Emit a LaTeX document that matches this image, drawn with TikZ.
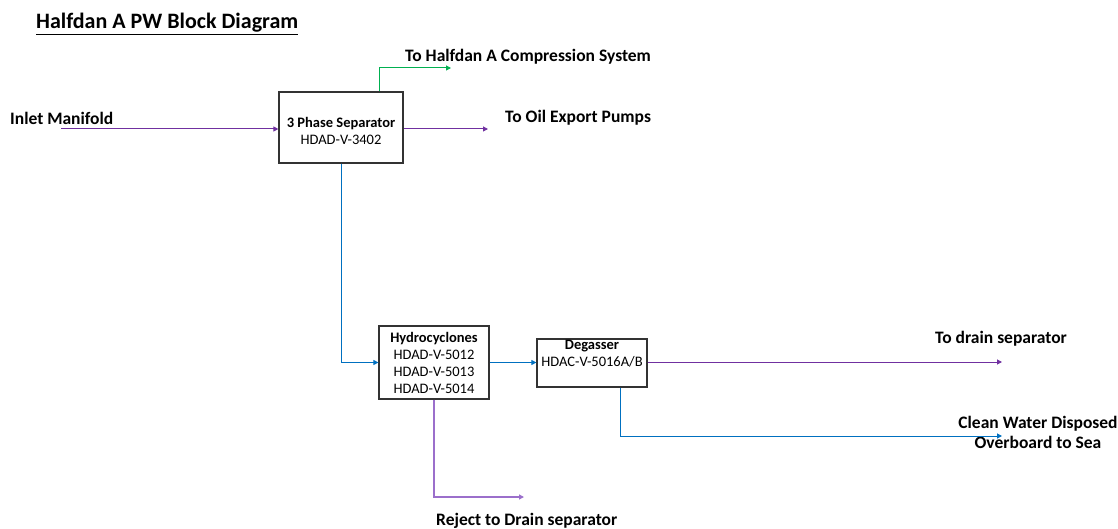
\documentclass[tikz,border=0pt]{standalone}
\usepackage{fontspec}
\setmainfont{Carlito}
\usetikzlibrary{arrows.meta,positioning}
\definecolor{oilpurple}{HTML}{7030A0}
\definecolor{rejectpurple}{HTML}{9B6FCB}
\definecolor{waterblue}{HTML}{0070C0}
\definecolor{gasgreen}{HTML}{00B050}
\begin{document}
\begin{tikzpicture}[x=1pt,y=-1pt,
>={Triangle[length=5pt,width=5pt]},
every node/.style={inner sep=0pt},
blockstyle/.style={draw=black!80,line width=1.2pt,fill=white},
boxtext/.style={align=center,font=\fontsize{14.5}{17}\selectfont},
labelstyle/.style={anchor=west,font=\bfseries\fontsize{17.5}{20}\selectfont},
oilline/.style={->,oilpurple,line width=1pt},
waterline/.style={->,waterblue,line width=1pt},
gasline/.style={->,gasgreen,line width=1pt}]

\useasboundingbox (0,0) rectangle (1118,529);

% title
\node[labelstyle,font=\bfseries\fontsize{22}{24}\selectfont] (title) at (36,24) {\underline{Halfdan A PW Block Diagram}};

% vessels
\node[blockstyle,minimum width=124,minimum height=71] (sep) at (341,127.5) {};
\node[boxtext] (septext) at (341,130.5) {\textbf{3 Phase Separator}\\HDAD-V-3402};

\node[blockstyle,minimum width=110,minimum height=73] (hydro) at (434,362.5) {};
\node[boxtext] (hydrotext) at (434,362.5) {\textbf{Hydrocyclones}\\HDAD-V-5012\\HDAD-V-5013\\HDAD-V-5014};

\node[blockstyle,minimum width=110,minimum height=48] (degasser) at (592,363) {};
\node[boxtext] (degassertext) at (592,354) {\textbf{Degasser}\\HDAC-V-5016A/B};

% labels
\node[labelstyle] (inletlabel) at (10,118) {Inlet Manifold};
\node[labelstyle] (gaslabel) at (405,57) {To Halfdan A Compression System};
\node[labelstyle] (oillabel) at (505,118) {To Oil Export Pumps};
\node[labelstyle] (drainlabel) at (935,339) {To drain separator};
\node[labelstyle,anchor=center,align=center] (cleanlabel) at (1038,432) {Clean Water Disposed\\Overboard to Sea};
\node[labelstyle] (rejectlabel) at (436,521) {Reject to Drain separator};

% free ends
\coordinate (inlet) at (61,129);
\coordinate (gasend) at (451,68);
\coordinate (oilend) at (488,129);
\coordinate (drainend) at (1002,362);
\coordinate (cleanend) at (1002,436);
\coordinate (rejectend) at (524,497);

% streams
\draw[oilline] (inlet) -- (inlet -| sep.west);
\draw[gasline] ([xshift=38]sep.north) |- (gasend);
\draw[oilline] (oilend -| sep.east) -- (oilend);
\draw[waterline] (sep.south) |- (hydro.west);
\draw[waterline] (hydro.east) -- (hydro.east -| degasser.west);
\draw[oilline] (degasser.east |- drainend) -- (drainend);
\draw[waterline] ([xshift=28]degasser.south) |- (cleanend);
\draw[->,rejectpurple,line width=1.2pt] (hydro.south) |- (rejectend);

\end{tikzpicture}
\end{document}
